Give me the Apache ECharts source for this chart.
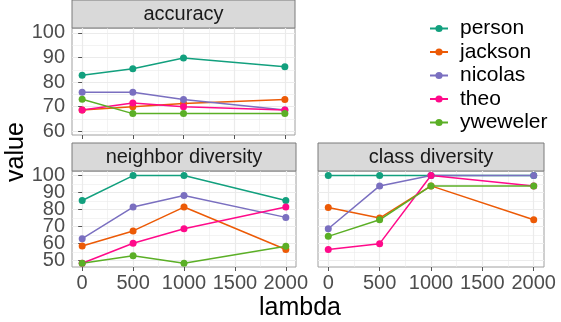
<!DOCTYPE html>
<html>
<head>
<meta charset="utf-8">
<script src="https://cdn.jsdelivr.net/npm/echarts@6/dist/echarts.min.js"></script>
<style>
  html, body { margin: 0; padding: 0; background: #fff; }
  #chart { width: 561px; height: 322px; }
</style>
</head>
<body>
<div id="chart"></div>
<script>
// data
const lambdas = [0, 500, 1000, 2000];
const people = ['person', 'jackson', 'nicolas', 'theo', 'yweweler'];
const colors = ['#12A07E', '#EC5A06', '#7A6FC0', '#FF0A8A', '#5BAF26'];

// rows follow `people`
const accuracy = [
  [82.8, 85.4, 89.8, 86.2],
  [68.7, 70.0, 71.3, 72.9],
  [75.9, 75.9, 72.9, 68.7],
  [68.7, 71.5, 70.0, 68.7],
  [73.0, 67.2, 67.2, 67.2]
];
const neighborDiversity = [
  [85.3, 100, 100, 85.3],
  [58.4, 67.3, 81.4, 56.3],
  [62.7, 81.4, 88.2, 75.3],
  [48.2, 60.0, 68.6, 81.4],
  [48.2, 52.7, 48.2, 58.2]
];
const classDiversity = [
  [100, 100, 100, 100],
  [81.2, 74.9, 93.9, 73.9],
  [68.6, 93.9, 100, 100],
  [56.3, 59.8, 100, 93.9],
  [64.1, 73.9, 93.9, 93.9]
];

const xTicks = [0, 500, 1000, 1500, 2000];
const xMinor = [250, 750, 1250, 1750];
const accTicks = [60, 70, 80, 90, 100];
const accMinor = [65, 75, 85, 95];
const divTicks = [50, 60, 70, 80, 90, 100];
const divMinor = [55, 65, 75, 85, 95];

const panels = [
  { title: 'accuracy', data: accuracy, grid: { left: 72, top: 28, width: 223, height: 107 },
    yMin: 58.5, yMax: 102, yTicks: accTicks, yMinor: accMinor, xLabels: false, yLabels: true },
  { title: 'neighbor diversity', data: neighborDiversity, grid: { left: 72, top: 171, width: 224, height: 96 },
    yMin: 46, yMax: 102.7, yTicks: divTicks, yMinor: divMinor, xLabels: true, yLabels: true },
  { title: 'class diversity', data: classDiversity, grid: { left: 318, top: 171, width: 226, height: 96 },
    yMin: 46, yMax: 102.7, yTicks: divTicks, yMinor: divMinor, xLabels: true, yLabels: false }
];

const tickFont = { color: '#4d4d4d', fontSize: 20, fontFamily: 'Liberation Sans' };
const gridColor = '#ebebeb';
const plain = function (v) { return String(v); };

let grids = [], xAxes = [], yAxes = [], series = [], graphics = [];

panels.forEach(function (p, i) {
  grids.push(Object.assign({ show: true, borderColor: '#a0a0a0', borderWidth: 1, backgroundColor: '#fff' }, p.grid));
  // major x
  xAxes.push({
    type: 'value', gridIndex: i, min: -100, max: 2100, position: 'bottom',
    axisLine: { show: false },
    axisTick: { show: true, length: 4, customValues: xTicks, lineStyle: { color: '#555' } },
    axisLabel: { show: p.xLabels, customValues: xTicks, margin: 6, hideOverlap: false, interval: 0,
                 showMinLabel: true, showMaxLabel: true, formatter: plain, ...tickFont },
    splitLine: { show: true, lineStyle: { color: gridColor, width: 1.2 } }
  });
  // minor x grid
  xAxes.push({
    type: 'value', gridIndex: i, min: -100, max: 2100, position: 'top',
    axisLine: { show: false }, axisLabel: { show: false },
    axisTick: { show: false, customValues: xMinor },
    splitLine: { show: true, lineStyle: { color: gridColor, width: 0.6 } }
  });

  // tick labels sit close together, so they are split over two stacked axes
  const evenTicks = p.yTicks.filter(function (v, j) { return j % 2 === 0; });
  const oddTicks = p.yTicks.filter(function (v, j) { return j % 2 === 1; });
  yAxes.push({
    type: 'value', gridIndex: i, min: p.yMin, max: p.yMax, position: 'left',
    axisLine: { show: false },
    axisTick: { show: p.yLabels, length: 4, customValues: p.yTicks, lineStyle: { color: '#555' } },
    axisLabel: { show: p.yLabels, customValues: evenTicks, margin: 7, hideOverlap: false,
                 showMinLabel: true, showMaxLabel: true, formatter: plain, ...tickFont },
    splitLine: { show: true, lineStyle: { color: gridColor, width: 1.2 } }
  });
  yAxes.push({
    type: 'value', gridIndex: i, min: p.yMin, max: p.yMax, position: 'right',
    axisLine: { show: false }, axisLabel: { show: false },
    axisTick: { show: false, customValues: p.yMinor },
    splitLine: { show: true, lineStyle: { color: gridColor, width: 0.6 } }
  });
  yAxes.push({
    type: 'value', gridIndex: i, min: p.yMin, max: p.yMax, position: 'left', offset: 0,
    axisLine: { show: false }, axisTick: { show: false, customValues: oddTicks },
    axisLabel: { show: p.yLabels, customValues: oddTicks, margin: 7, hideOverlap: false,
                 showMinLabel: true, showMaxLabel: true, formatter: plain, ...tickFont },
    splitLine: { show: false }
  });

  people.forEach(function (name, k) {
    series.push({
      name: name, type: 'line',
      xAxisIndex: 2 * i, yAxisIndex: 3 * i,
      data: lambdas.map(function (l, j) { return [l, p.data[k][j]]; }),
      symbol: 'circle', symbolSize: 7, showSymbol: true,
      lineStyle: { width: 1.5, color: colors[k] },
      itemStyle: { color: colors[k] },
      animation: false, z: 3
    });
  });

  // facet strip
  graphics.push({
    type: 'group', children: [
      { type: 'rect', shape: { x: p.grid.left, y: p.grid.top - 28, width: p.grid.width, height: 28 },
        style: { fill: '#d9d9d9', stroke: '#7a7a7a', lineWidth: 1 } },
      { type: 'text', x: p.grid.left + p.grid.width / 2, y: p.grid.top - 14,
        style: { text: p.title, fill: '#1a1a1a', fontSize: 20, fontFamily: 'Liberation Sans',
                 align: 'center', verticalAlign: 'middle' } }
    ]
  });
});

graphics.push({
  type: 'text', x: 16, y: 152, rotation: Math.PI / 2,
  style: { text: 'value', fill: '#000', fontSize: 25, fontFamily: 'Liberation Sans', align: 'center', verticalAlign: 'middle' }
});
graphics.push({
  type: 'text', x: 300, y: 308,
  style: { text: 'lambda', fill: '#000', fontSize: 25, fontFamily: 'Liberation Sans', align: 'center', verticalAlign: 'middle' }
});

const chart = echarts.init(document.getElementById('chart'), null, { renderer: 'canvas' });
chart.setOption({
  animation: false,
  backgroundColor: '#fff',
  grid: grids,
  xAxis: xAxes,
  yAxis: yAxes,
  series: series,
  legend: {
    data: people, orient: 'vertical', left: 429, top: 18,
    itemWidth: 18, itemHeight: 9, itemGap: 2.5, padding: 0,
    textStyle: { color: '#000', fontSize: 21, fontFamily: 'Liberation Sans', padding: [0, 0, 0, 7] }
  },
  graphic: graphics
});
</script>
</body>
</html>
